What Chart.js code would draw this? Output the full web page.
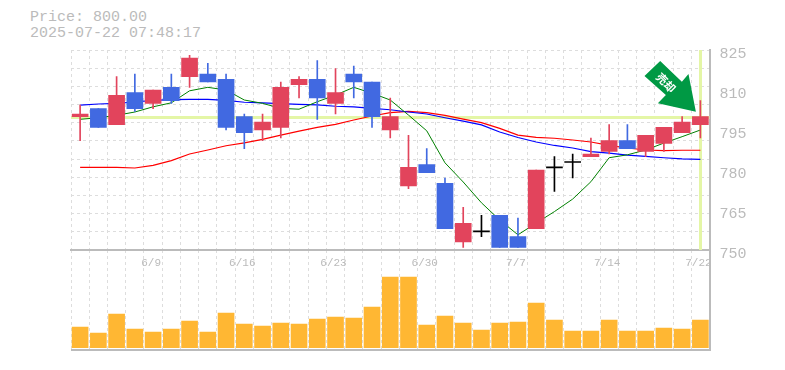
<!DOCTYPE html>
<html>

<head>
    <meta charset="utf-8">
    <title>Price</title>
    <style>
        html, body { margin: 0; padding: 0; background: #fff; overflow: hidden; }
        #info { position: absolute; left: 30px; top: 10px; font: 15px/16px "Liberation Mono", monospace; color: #bbb; white-space: pre; }
        #priceChart { position: absolute; left: 0; top: 40px; }
        #volumeChart { position: absolute; left: 0; top: 240px; }
    </style>
</head>

<body>
    <div id="info">Price: 800.00
2025-07-22 07:48:17</div>
    <canvas id="volumeChart" width="785" height="120"></canvas>
    <canvas id="priceChart" width="785" height="220"></canvas>
    <script src="https://cdn.jsdelivr.net/npm/chart.js@4.4.6/dist/chart.umd.min.js"></script>
    <script>
        const dates = ["6/3", "6/4", "6/5", "6/6", "6/9", "6/10", "6/11", "6/12", "6/13", "6/16", "6/17", "6/18", "6/19", "6/20", "6/23", "6/24", "6/25", "6/26", "6/27", "6/30", "7/1", "7/2", "7/3", "7/4", "7/7", "7/8", "7/9", "7/10", "7/11", "7/14", "7/15", "7/16", "7/17", "7/18", "7/22"]
        const shownDates = ["6/9", "6/16", "6/23", "6/30", "7/7", "7/14", "7/22"]
        const opens = [800, 803, 797, 809, 805, 811, 815, 816, 814, 800, 795, 796, 812, 814, 805, 816, 813, 795, 774, 782, 775, 753, 757, 763, 755, 758, 781, 783, 785, 787, 791, 787, 790, 794, 797]
        const closes = [801, 796, 808, 803, 810, 806, 822, 813, 796, 794, 798, 811, 814, 807, 809, 813, 800, 800, 781, 779, 758, 760, 757, 751, 751, 780, 781, 783, 786, 791, 788, 793, 796, 798, 800]
        const highs = [804.3, 803, 815, 816, 810, 816, 823, 820, 816, 801, 801, 813, 815, 821, 818, 819, 813, 807, 793, 788, 777, 766, 763, 763, 762, 780, 785, 786, 792, 797, 797, 793, 796, 800, 806]
        const lows = [791, 796, 797, 802, 803, 805, 811, 813, 795, 788, 791, 792, 807, 799, 801, 807, 796, 792, 773, 779, 758, 751, 755, 751, 751, 758, 772, 777, 785, 786, 788, 785, 787, 794, 792]
        const shortAverage = [799.0, 799.6, 800.5, 801.75, 803.7, 805.2, 809.7, 811.0, 810, 806.25, 805, 803.1, 802.8, 805.6, 808.1, 811, 808.8, 806.25, 800.6, 794.7, 782.7, 775.5, 767.7, 761.25, 755.7, 760.1, 764.4, 769.1, 775.6, 784.6, 785.7, 787.5, 790.1, 792.5, 795]
        const middleAverage = [804.3, 804.75, 805, 805.5, 806.1, 806.4, 806.5, 806.5, 806.1, 805.4, 805.2, 804.9, 804.6, 804.4, 803.9, 803.7, 803.1, 802.6, 801.75, 801, 799.6, 798.3, 796.9, 794.25, 792.2, 790.5, 789.2, 788.25, 786.9, 786.3, 785.6, 785.1, 784.6, 784.2, 784]
        const longAverage = [781, 781, 781, 780.75, 781.75, 783.5, 786, 787.5, 789.1, 790.2, 791.5, 793.1, 794.6, 796, 797.1, 798.75, 800.25, 801.5, 802, 801.5, 800.5, 799.1, 797.75, 795.6, 793.1, 792.25, 791.9, 791.25, 790.5, 789.25, 788.25, 787.5, 787.25, 787.4, 787.4]
        const volumes = [62, 44, 101, 56, 47, 56, 80, 47, 104, 71, 65, 74, 71, 86, 92, 89, 122, 212, 212, 68, 95, 74, 53, 74, 77, 134, 83, 50, 50, 83, 50, 50, 59, 56, 83]
        const priceTicks = [825, 810, 795, 780, 765, 750]
        const currentPrice = 800

        const RED = "#e2445c"
        const BLUE = "#4169e1"
        const HIGHLIGHT = "#e4f6a6"
        const AXIS = "#bbbbbb"
        const GRID = "#dddddd"
        const RIGHT_AXIS_WIDTH = 75.5
        const PADDING = { left: 71, right: 0, top: 10, bottom: 10 }

        const colorOf = i => opens[i] === closes[i] ? "#000000" : closes[i] > opens[i] ? RED : BLUE
        const candleColors = dates.map((_, i) => colorOf(i))
        const bodies = dates.map((_, i) => opens[i] === closes[i] ? [opens[i] - 0.19, opens[i] + 0.19] : [opens[i], closes[i]])
        const wicks = dates.map((_, i) => [lows[i], highs[i]])

        function lineSet(label, data, color, width) {
            return { type: "line", label, data, borderColor: color, borderWidth: width, pointRadius: 0, tension: 0, order: 3 }
        }

        // highlight lines sit under the candles, the arrow on top of them
        const priceOverlay = {
            id: "priceOverlay",
            beforeDatasetsDraw(chart) {
                const { ctx, chartArea, scales } = chart
                const y = Math.round(scales.y.getPixelForValue(currentPrice)) + 0.5
                const x = Math.round(scales.x.getPixelForValue(dates.length - 1)) + 0.5
                ctx.save()
                ctx.strokeStyle = HIGHLIGHT
                ctx.lineWidth = 3
                ctx.beginPath()
                ctx.moveTo(chartArea.left, y)
                ctx.lineTo(chartArea.right, y)
                ctx.moveTo(x, chartArea.top)
                ctx.lineTo(x, chartArea.bottom)
                ctx.stroke()
                ctx.restore()
            },
            afterDatasetsDraw(chart) {
                const { ctx, scales } = chart
                const tx = scales.x.getPixelForValue(dates.length - 1) - 4.5
                const ty = scales.y.getPixelForValue(currentPrice) - 5
                const shape = [[-35.7, -50.7], [-14, -30], [-7.4, -37.7], [0, 0], [-38, -8.4], [-30, -16.7], [-51.4, -35.7]]
                ctx.save()
                ctx.fillStyle = "#009944"
                ctx.beginPath()
                shape.forEach(p => ctx.lineTo(tx + p[0], ty + p[1]))
                ctx.closePath()
                ctx.fill()
                ctx.translate(tx - 30, ty - 29)
                ctx.rotate(Math.PI / 4)
                ctx.fillStyle = "#ffffff"
                ctx.font = "bold 11px 'Noto Sans CJK JP'"
                ctx.textAlign = "center"
                ctx.textBaseline = "middle"
                ctx.fillText("売却", 0, 0)
                ctx.restore()
            },
        }

        new Chart(document.getElementById("priceChart"), {
            type: "bar",
            data: {
                labels: dates,
                datasets: [
                    lineSet("short", shortAverage, "#008000", 1),
                    lineSet("middle", middleAverage, "#0000ff", 1.2),
                    lineSet("long", longAverage, "#ff0000", 1.2),
                    { label: "wick", data: wicks, backgroundColor: candleColors, barThickness: 1, order: 2, grouped: false },
                    { label: "body", data: bodies, backgroundColor: candleColors, barThickness: 16, order: 1, grouped: false },
                ],
            },
            options: {
                responsive: false,
                animation: false,
                layout: { autoPadding: false, padding: PADDING },
                plugins: { legend: { display: false }, tooltip: { enabled: false } },
                scales: {
                    x: {
                        offset: true,
                        afterFit: axis => { axis.height = 0 },
                        grid: { color: GRID, offset: true, drawTicks: false },
                        border: { display: true, color: AXIS, width: 2, dash: [3, 3] },
                        ticks: { display: false, autoSkip: false },
                    },
                    y: {
                        position: "right",
                        min: 750,
                        max: 825,
                        afterFit: axis => {
                            axis.width = RIGHT_AXIS_WIDTH
                            axis.paddingTop = 0
                            axis.paddingBottom = 0
                        },
                        grid: { display: false },
                        border: { display: true, color: AXIS, width: 2 },
                        afterBuildTicks: axis => { axis.ticks = priceTicks.map(value => ({ value })) },
                        ticks: { color: AXIS, font: { family: "Liberation Mono", size: 15 }, padding: 2, labelOffset: 4, autoSkip: false },
                    },
                    rows: {
                        position: "left",
                        min: 750,
                        max: 825,
                        afterFit: axis => { axis.width = 0 },
                        grid: { color: GRID, drawTicks: false },
                        border: { display: false, dash: [3, 3] },
                        afterBuildTicks: axis => { axis.ticks = Array.from({ length: 12 }, (_, k) => ({ value: 750 + k * 75 / 11 })) },
                        ticks: { display: false },
                    },
                },
            },
            plugins: [priceOverlay],
        })

        new Chart(document.getElementById("volumeChart"), {
            type: "bar",
            data: {
                labels: dates,
                datasets: [{ label: "volume", data: volumes, backgroundColor: "#ffb733", barThickness: 16 }],
            },
            options: {
                responsive: false,
                animation: false,
                layout: { autoPadding: false, padding: PADDING },
                plugins: { legend: { display: false }, tooltip: { enabled: false } },
                scales: {
                    x: {
                        offset: true,
                        position: { y: 293 },
                        afterFit: axis => { axis.height = 0 },
                        grid: { color: GRID, offset: true, drawTicks: false },
                        border: { display: false, dash: [3, 3] },
                        ticks: {
                            autoSkip: false,
                            maxRotation: 0,
                            labelOffset: -2,
                            color: AXIS,
                            font: { family: "Liberation Mono", size: 11 },
                            padding: 6,
                            callback(value) {
                                const label = this.getLabelForValue(value)
                                return shownDates.includes(label) ? label : ""
                            },
                        },
                    },
                    y: {
                        position: "right",
                        min: -7,
                        max: 293,
                        afterFit: axis => { axis.width = RIGHT_AXIS_WIDTH },
                        afterBuildTicks: axis => { axis.ticks = [{ value: -7 }] },
                        grid: { color: AXIS, lineWidth: 2, drawTicks: false },
                        border: { display: true, color: AXIS, width: 2 },
                        ticks: { display: false },
                    },
                },
            },
        })
    </script>
</body>

</html>
